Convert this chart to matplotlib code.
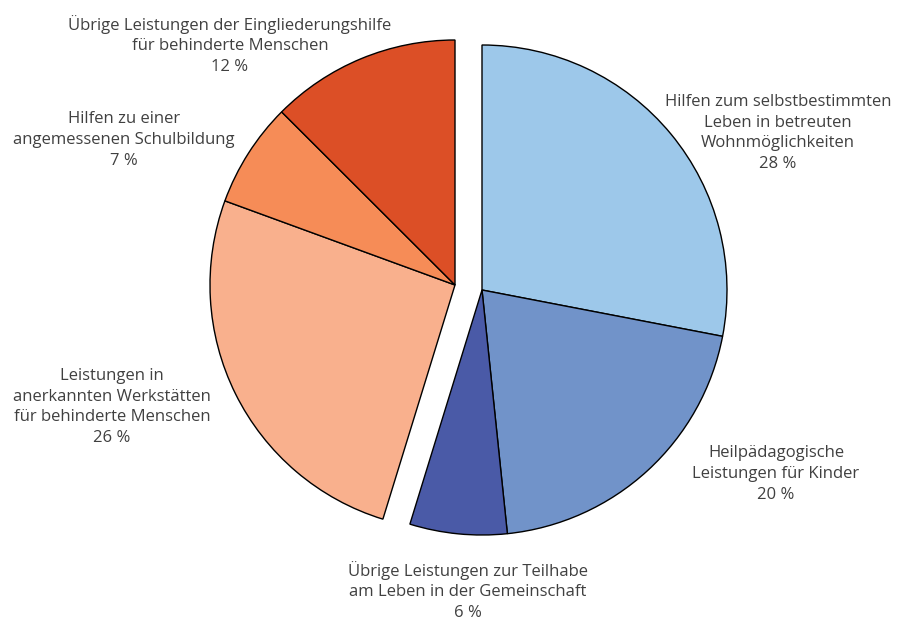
import numpy as np
import matplotlib.pyplot as plt

plt.rcParams['font.family'] = ['Open Sans', 'DejaVu Sans']

# shares in percent, clockwise from the top
labels = [
    "Hilfen zum selbstbestimmten\nLeben in betreuten\nWohnmöglichkeiten",
    "Heilpädagogische\nLeistungen für Kinder",
    "Übrige Leistungen zur Teilhabe\nam Leben in der Gemeinschaft",
    "Leistungen in\nanerkannten Werkstätten\nfür behinderte Menschen",
    "Hilfen zu einer\nangemessenen Schulbildung",
    "Übrige Leistungen der Eingliederungshilfe\nfür behinderte Menschen",
]
values = [28.0, 20.3, 6.4, 25.8, 6.9, 12.5]
shown = [28, 20, 6, 26, 7, 12]
group = ['blue', 'blue', 'blue', 'orange', 'orange', 'orange']
colors = ['#9dc8ea', '#7193c9', '#4a5aa7', '#f9b08d', '#f68c57', '#dc4f26']

# label anchors (pixel layout, y measured up from bottom)
label_pos = [(778, 490), (776, 149), (468, 32), (112, 216), (124, 483), (230, 578)]

W, H = 898, 623
fig = plt.figure(figsize=(W / 100, H / 100), dpi=100)
ax = fig.add_axes([0, 0, 1, 1])

cx, cy, r = 482, 333, 245
wedges, _ = ax.pie(values, colors=colors, startangle=90, counterclock=False,
                   radius=r, center=(cx, cy),
                   wedgeprops=dict(edgecolor='black', linewidth=1.0))
ax.set_xlim(0, W)
ax.set_ylim(0, H)
ax.set_aspect('equal')
ax.axis('off')

# pull the orange group to the left as one block
for w, g in zip(wedges, group):
    if g == 'orange':
        w.set_center((cx - 27, cy + 5))

for lab, pct, (x, y) in zip(labels, shown, label_pos):
    ax.text(x, y, "%s\n%d %%" % (lab, pct), ha='center', va='center',
            fontsize=12, color='#404040', linespacing=1.4)

plt.savefig("out.png", dpi=100)
